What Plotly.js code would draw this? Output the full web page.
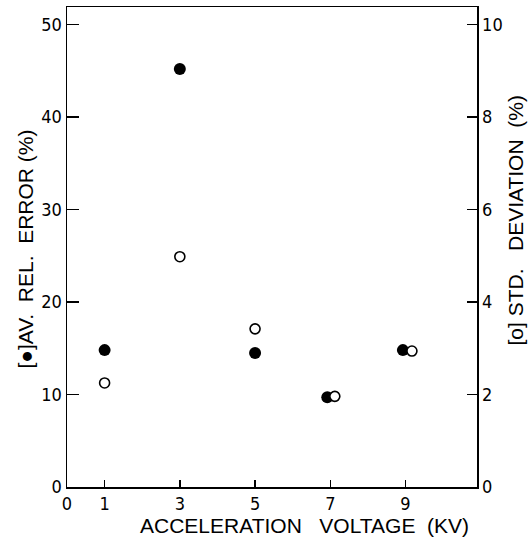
<!DOCTYPE html>
<html>
<head>
<meta charset="utf-8">
<script src="https://cdn.plot.ly/plotly-3.0.1.min.js"></script>
<style>html,body{margin:0;padding:0;background:#fff;}#chart{width:530px;height:544px;}</style>
</head>
<body>
<div id="chart"></div>
<script>
// Data
const voltageErr = [1, 3, 5, 6.92, 8.93];
const avRelError = [14.8, 45.2, 14.5, 9.7, 14.8];
const voltageStd = [1, 3, 5, 7.12, 9.17];
const stdDeviation = [2.25, 4.98, 3.42, 1.96, 2.94];
const xTickVals = [0, 1, 3, 5, 7, 9];
const xTickText = ['0', '1', '3', '5', '7', '9'];
const leftTicks = [0, 10, 20, 30, 40, 50];
const rightTicks = [0, 2, 4, 6, 8, 10];

const NB = '\u00a0';
const tickFont = {family: 'DejaVu Sans Condensed, sans-serif', size: 18, color: '#000'};
const titleFont = {family: 'Liberation Sans, Arial, sans-serif', size: 21, color: '#000'};

const traces = [
  {x: voltageErr, y: avRelError, type: 'scatter', mode: 'markers', yaxis: 'y',
   marker: {symbol: 'circle', size: 12, color: '#000'}, showlegend: false},
  {x: voltageStd, y: stdDeviation, type: 'scatter', mode: 'markers', yaxis: 'y2',
   marker: {symbol: 'circle', size: 10, color: '#fff', line: {color: '#000', width: 1.6}}, showlegend: false}
];

const layout = {
  width: 530, height: 544,
  margin: {l: 67, r: 53, t: 7, b: 57},
  paper_bgcolor: '#fff', plot_bgcolor: '#fff',
  xaxis: {
    range: [0, 10.9], tickvals: xTickVals, ticktext: xTickText,
    ticks: 'inside', ticklen: 7, tickwidth: 1.5, tickcolor: '#000',
    showline: true, linecolor: '#000', linewidth: 1.5, mirror: true,
    showgrid: false, zeroline: false, tickfont: tickFont
  },
  yaxis: {
    range: [0, 51.9], tickvals: leftTicks,
    ticks: 'inside', ticklen: 12, tickwidth: 1.5, tickcolor: '#000',
    showline: true, linecolor: '#000', linewidth: 1.5,
    showgrid: false, zeroline: false, tickfont: tickFont
  },
  yaxis2: {
    range: [0, 10.38], tickvals: rightTicks, overlaying: 'y', side: 'right',
    ticks: 'inside', ticklen: 10, tickwidth: 1.5, tickcolor: '#000',
    showline: true, linecolor: '#000', linewidth: 1.5,
    showgrid: false, zeroline: false, tickfont: tickFont
  },
  annotations: [
    {text: 'ACCELERATION' + NB.repeat(3) + 'VOLTAGE' + NB.repeat(2) + '(KV)', xref: 'paper', yref: 'paper',
     x: 0.58, y: -0.052, xanchor: 'center', yanchor: 'top', showarrow: false, font: titleFont},
    {text: '[●]AV.' + NB.repeat(2) + 'REL.' + NB.repeat(2) + 'ERROR' + NB + '(%)', xref: 'paper', yref: 'paper',
     x: -0.102, xanchor: 'center', y: 0.495, yanchor: 'middle', textangle: -90, showarrow: false, font: titleFont},
    {text: '[o]' + NB + 'STD.' + NB.repeat(3) + 'DEVIATION' + NB.repeat(2) + '(%)', xref: 'paper', yref: 'paper',
     x: 1.095, xanchor: 'center', y: 0.555, yanchor: 'middle', textangle: -90, showarrow: false, font: titleFont}
  ]
};

Plotly.newPlot('chart', traces, layout, {displayModeBar: false, staticPlot: true});
</script>
</body>
</html>
